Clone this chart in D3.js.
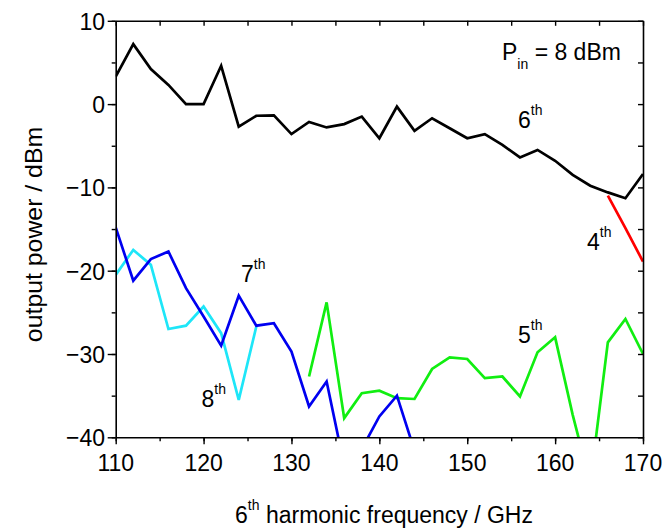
<!DOCTYPE html>
<html>
<head>
<meta charset="utf-8">
<script src="https://cdn.jsdelivr.net/npm/d3@7"></script>
<style>
  html, body { margin: 0; padding: 0; background: #fff; }
  svg { display: block; }
  text { font-family: "Liberation Sans", Arial, sans-serif; fill: #000; }
</style>
</head>
<body>
<svg id="chart" width="670" height="529"></svg>
<script>
// Output power of the individual harmonics versus 6th-harmonic frequency (GHz)
const freq = d3.range(110, 171, 2);

const sixth = [3.3, 7.2, 4.2, 2.3, 0, 0, 4.6, -2.7, -1.4, -1.35, -3.6, -2.15, -2.8, -2.4, -1.5, -4.1,
               -0.3, -3.2, -1.7, -2.9, -4.1, -3.6, -4.9, -6.4, -5.5, -6.8, -8.5, -9.8, -10.6, -11.3, -8.4];
const fourthFreq = [166, 168, 170];
const fourth = [-11.0, -14.9, -18.9];
const seventhFreq = d3.range(110, 145, 2);
const seventh = [-14.8, -21.2, -18.6, -17.7, -22.1, -25.5, -29.0, -23.0, -26.6, -26.3, -29.7, -36.3,
                 -33.3, -43.4, -41.4, -37.5, -35.0, -41.6];
const eighthFreq = d3.range(110, 127, 2);
const eighth = [-20.5, -17.5, -19.3, -27.0, -26.6, -24.3, -27.5, -35.5, -26.7];
const fifthFreq = d3.range(132, 171, 2);
const fifth = [-32.7, -23.8, -37.7, -34.7, -34.4, -35.3, -35.4, -31.8, -30.4, -30.6, -32.9, -32.7,
               -35.1, -29.8, -28.0, -37.3, -45.5, -28.6, -25.8, -30.0];

const xTicks = [110, 120, 130, 140, 150, 160, 170];
const yTicks = [-40, -30, -20, -10, 0, 10];

const FS = 23;      // main font size
const SS = 14;      // super/subscript font size
const STRETCH = 1.08; // glyphs are drawn slightly tall
const svg = d3.select("#chart");
const m = { left: 115.7, right: 643, top: 20.8, bottom: 437.3 };

const x = d3.scaleLinear().domain([110, 170]).range([m.left, m.right]);
const y = d3.scaleLinear().domain([-40, 10]).range([m.bottom, m.top]);

svg.append("defs").append("clipPath").attr("id", "plotClip")
  .append("rect").attr("x", m.left).attr("y", m.top)
  .attr("width", m.right - m.left).attr("height", m.bottom - m.top);

// series
const series = [
  { xs: freq, ys: sixth, color: "#000000" },
  { xs: fifthFreq, ys: fifth, color: "#11ee11" },
  { xs: eighthFreq, ys: eighth, color: "#1ee6f8" },
  { xs: seventhFreq, ys: seventh, color: "#0000f0" },
  { xs: fourthFreq, ys: fourth, color: "#ff0000" }
];
const line = d3.line().x(d => x(d[0])).y(d => y(d[1]));
const gLines = svg.append("g").attr("clip-path", "url(#plotClip)");
series.forEach(s => {
  gLines.append("path")
    .datum(s.xs.map((v, i) => [v, s.ys[i]]))
    .attr("d", line)
    .attr("fill", "none")
    .attr("stroke", s.color)
    .attr("stroke-width", 2.7)
    .attr("stroke-linejoin", "miter");
});

// axes
const minorX = d3.range(110, 171, 5);
const minorY = d3.range(-40, 11, 5);
const axisStyle = g => {
  g.selectAll(".domain").attr("stroke", "#000").attr("stroke-width", 1.6);
  g.selectAll(".tick line").attr("stroke", "#000").attr("stroke-width", 1.4);
  g.selectAll(".tick text").remove();
};

// bottom: outward ticks
svg.append("g").attr("transform", `translate(0,${m.bottom})`)
  .call(d3.axisBottom(x).tickValues(minorX).tickSize(4).tickSizeOuter(0))
  .call(axisStyle);
svg.append("g").attr("transform", `translate(0,${m.bottom})`)
  .call(d3.axisBottom(x).tickValues(xTicks).tickSize(7).tickSizeOuter(0))
  .call(axisStyle)
  .call(g => g.select(".domain").remove());

// left: outward ticks
svg.append("g").attr("transform", `translate(${m.left},0)`)
  .call(d3.axisLeft(y).tickValues(minorY).tickSize(4).tickSizeOuter(0))
  .call(axisStyle);
svg.append("g").attr("transform", `translate(${m.left},0)`)
  .call(d3.axisLeft(y).tickValues(yTicks).tickSize(8).tickSizeOuter(0))
  .call(axisStyle)
  .call(g => g.select(".domain").remove());

// top and right: inward ticks
svg.append("g").attr("transform", `translate(0,${m.top})`)
  .call(d3.axisBottom(x).tickValues(minorX).tickSize(5).tickSizeOuter(0))
  .call(axisStyle);
svg.append("g").attr("transform", `translate(${m.right},0)`)
  .call(d3.axisLeft(y).tickValues(minorY).tickSize(-5).tickSizeOuter(0))
  .call(axisStyle)
  .call(g => g.selectAll(".tick line").attr("x2", -5));

// text anchored at a baseline point, stretched a little vertically
function label(px, py, rot) {
  return svg.append("g")
    .attr("transform", `translate(${px},${py}) rotate(${rot || 0}) scale(1,${STRETCH})`)
    .append("text").attr("x", 0).attr("y", 0).attr("font-size", FS);
}

// tick labels
xTicks.forEach(v => {
  label(x(v), 470.5).attr("text-anchor", "middle").text(d3.format("d")(v));
});
yTicks.forEach(v => {
  label(105, y(v) + 0.36 * FS * STRETCH).attr("text-anchor", "end").text(d3.format("d")(v));
});

// text with a raised or lowered script part
function scripted(px, py, main, script, shift, after) {
  const t = label(px, py);
  t.append("tspan").text(main);
  t.append("tspan").attr("font-size", SS).attr("dy", shift).text(script);
  if (after) t.append("tspan").attr("dy", -shift).text(after);
  return t;
}

scripted(502, 59.5, "P", "in", 8.5, " = 8 dBm");
scripted(518, 128, "6", "th", -12);
scripted(241, 281.5, "7", "th", -12);
scripted(201.5, 407, "8", "th", -12);
scripted(518, 342.5, "5", "th", -12);
scripted(587, 250, "4", "th", -12);

// axis titles
const xt = label(384, 523).attr("text-anchor", "middle");
xt.append("tspan").text("6");
xt.append("tspan").attr("font-size", SS).attr("dy", -12).text("th");
xt.append("tspan").attr("dy", 12).text(" harmonic frequency / GHz");

svg.append("g")
  .attr("transform", `translate(42,234.5) scale(1,${STRETCH}) rotate(-90)`)
  .append("text").attr("text-anchor", "middle").attr("font-size", FS)
  .text("output power / dBm");
</script>
</body>
</html>
